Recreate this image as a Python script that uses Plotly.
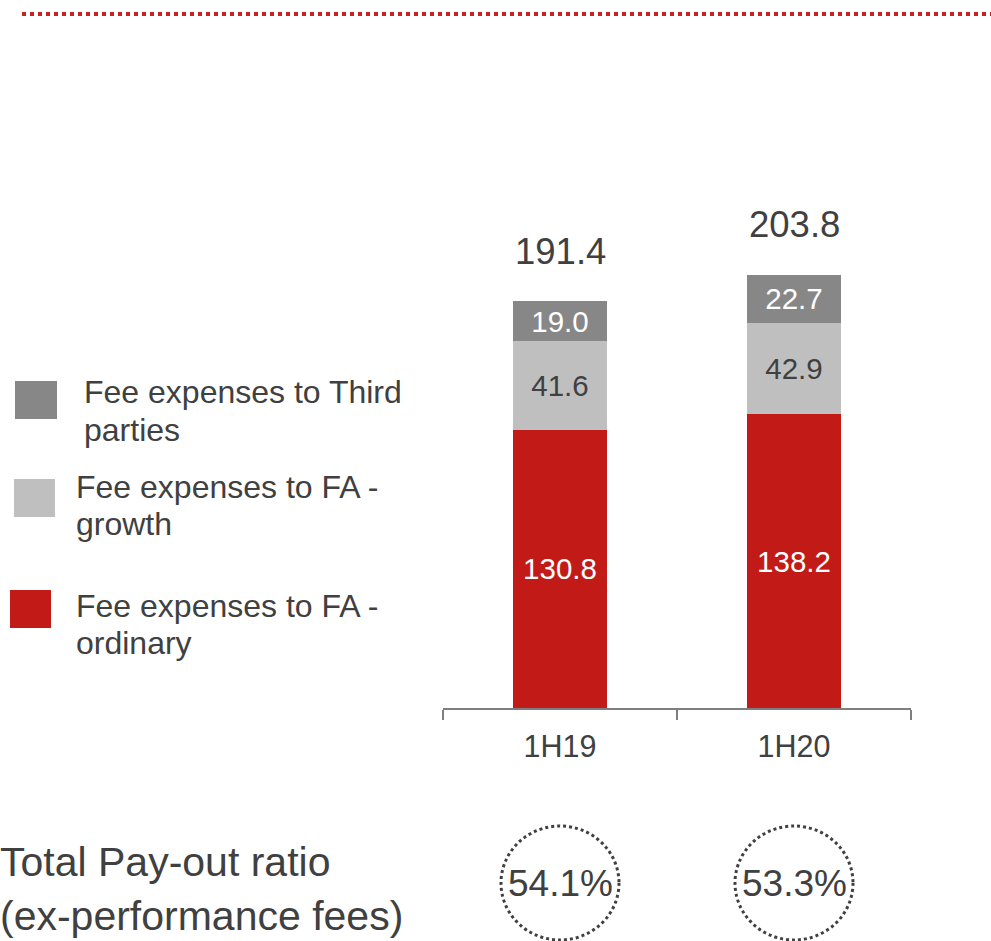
import plotly.graph_objects as go

categories = ["1H19", "1H20"]
ordinary = [130.8, 138.2]
growth = [41.6, 42.9]
third = [19.0, 22.7]
totals = [191.4, 203.8]
payout = ["54.1%", "53.3%"]
payout_label = ["Total Pay-out ratio", "(ex-performance fees)"]

names = [["Fee expenses to FA -", "ordinary"],
         ["Fee expenses to FA -", "growth"],
         ["Fee expenses to Third", "parties"]]
colors = ["#C21B17", "#BFBFBF", "#878787"]
text_colors = ["#FFFFFF", "#404040", "#FFFFFF"]
values = [ordinary, growth, third]

FONT = "Liberation Sans, Arial, sans-serif"
W, H = 991, 941

fig = go.Figure()
for name, vals, col, tcol in zip(names, values, colors, text_colors):
    fig.add_trace(go.Bar(
        x=categories, y=vals, name=" ".join(name),
        marker=dict(color=col, line=dict(width=0)),
        texttemplate="%{y:.1f}", textposition="inside", insidetextanchor="middle",
        constraintext="none",
        textfont=dict(family=FONT, size=29.5, color=tcol),
        hoverinfo="skip",
    ))

annotations = []
for c, t in zip(categories, totals):
    annotations.append(dict(x=c, y=t, xref="x", yref="y", text=f"{t:.1f}", showarrow=False,
                            yanchor="middle", yshift=50,
                            font=dict(family=FONT, size=36.5, color="#404040")))

shapes = []
# top dotted red rule
shapes.append(dict(type="line", xref="paper", yref="paper", x0=22 / W, x1=1, y0=1 - 14 / H, y1=1 - 14 / H,
                   line=dict(color="#C9211E", width=4, dash="dot")))

# custom legend
legend_boxes = [  # square box (px), text x, first/second line centre y
    ((10, 590, 51, 628), 74, (606, 643)),
    ((14, 479, 55, 517), 74, (487, 524)),
    ((15, 381, 57, 419), 82, (392, 430)),
]
for (box, tx, tys), name, col in zip(legend_boxes, names, colors):
    x0, y0, x1, y1 = box
    shapes.append(dict(type="rect", xref="paper", yref="paper", x0=x0 / W, x1=x1 / W,
                       y0=1 - y1 / H, y1=1 - y0 / H, fillcolor=col, line=dict(width=0)))
    for line, ty in zip(name, tys):
        annotations.append(dict(x=tx / W, y=1 - ty / H, xref="paper", yref="paper", text=line,
                                showarrow=False, xanchor="left", yanchor="middle", align="left",
                                font=dict(family=FONT, size=32, color="#404040")))

# pay-out ratio row
py = 1 - 883 / H
for line, ty in zip(payout_label, (862, 916)):
    annotations.append(dict(x=0, y=1 - ty / H, xref="paper", yref="paper", text=line,
                            showarrow=False, xanchor="left", yanchor="middle", align="left", xshift=-2,
                            font=dict(family=FONT, size=41, color="#404040")))
for i, (c, p) in enumerate(zip(categories, payout)):
    annotations.append(dict(x=c, y=py, xref="x", yref="paper", text=p, showarrow=False,
                            xanchor="center", yanchor="middle",
                            font=dict(family=FONT, size=37, color="#404040")))
    shapes.append(dict(type="circle", xref="x", yref="paper", xsizemode="pixel", ysizemode="pixel",
                       xanchor=i, yanchor=py, x0=-59, x1=59, y0=-57, y1=57,
                       line=dict(color="#404040", width=3, dash="dot")))

fig.update_layout(
    width=W, height=H, autosize=False,
    margin=dict(l=0, r=0, t=0, b=0),
    barmode="stack", bargap=0.6,
    showlegend=False,
    plot_bgcolor="white", paper_bgcolor="white",
    xaxis=dict(domain=[443 / W, 911 / W], range=[-0.5, 1.5], showgrid=False,
               showline=True, linecolor="#7F7F7F", linewidth=2,
               ticks="outside", tickson="boundaries", ticklen=10, tickwidth=2, tickcolor="#7F7F7F",
               ticklabelstandoff=10,
               tickfont=dict(family=FONT, size=30.5, color="#404040")),
    yaxis=dict(domain=[1 - 708 / H, 1 - 240.2 / H], range=[0, 220], visible=False, showgrid=False),
    annotations=annotations, shapes=shapes,
)

fig.write_html("out.html", config={"displayModeBar": False},
               post_script="document.body.style.margin='0';document.body.style.overflow='hidden';")
